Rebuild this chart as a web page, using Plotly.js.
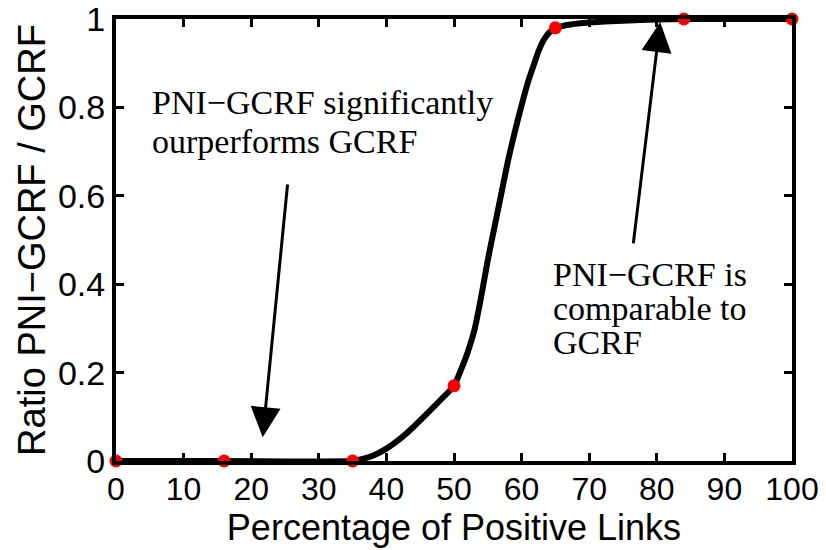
<!DOCTYPE html>
<html>
<head>
<meta charset="utf-8">
<script src="https://cdn.plot.ly/plotly-3.0.1.min.js"></script>
<style>html,body{margin:0;padding:0;background:#fff;}#chart{width:826px;height:550px;}</style>
</head>
<body>
<div id="chart"></div>
<script>
// Measured points (red markers)
const pointX = [0, 16, 35, 50, 65, 84, 100];
const pointY = [0, 0, 0, 0.17, 0.98, 1, 1];

// Smooth curve
const curveX = [0, 16, 35, 36, 38, 40, 42, 44, 46, 48, 50, 51, 52, 53, 54, 55, 56, 57, 58, 59, 60, 61, 62, 62.5, 63, 63.5, 64, 64.5, 65, 66, 67, 70, 75, 80, 84, 90, 100];
const curveY = [0, 0, 0, 0.003, 0.012, 0.028, 0.05, 0.077, 0.107, 0.138, 0.17, 0.205, 0.245, 0.295, 0.37, 0.455, 0.53, 0.605, 0.68, 0.745, 0.805, 0.86, 0.905, 0.927, 0.945, 0.958, 0.968, 0.975, 0.98, 0.984, 0.987, 0.992, 0.996, 0.999, 1, 1, 1];

const xTicks = [0, 10, 20, 30, 40, 50, 60, 70, 80, 90, 100];
const yTicks = [0, 0.2, 0.4, 0.6, 0.8, 1];
const yTickText = ['0', '0.2', '0.4', '0.6', '0.8', '1'];

const note1Lines = ['PNI\u2212GCRF significantly', 'ourperforms GCRF'];
const note2Lines = ['PNI\u2212GCRF is', 'comparable to', 'GCRF'];

const traces = [
  {x: curveX, y: curveY, mode: 'lines', type: 'scatter',
   line: {color: '#000', width: 6, shape: 'spline', smoothing: 0.6},
   hoverinfo: 'skip', cliponaxis: false},
  {x: pointX, y: pointY, mode: 'markers', type: 'scatter',
   marker: {color: '#ff0000', size: 13}, cliponaxis: false}
];

const xTickFont = {family: 'Liberation Sans, Arial, sans-serif', size: 32, color: '#000'};
const yTickFont = {family: 'Liberation Sans, Arial, sans-serif', size: 34, color: '#000'};
const xTitleFont = {family: 'Liberation Sans, Arial, sans-serif', size: 36, color: '#000'};
const yTitleFont = {family: 'Liberation Sans, Arial, sans-serif', size: 38, color: '#000'};
const noteFont = {family: 'Liberation Serif, Times New Roman, serif', size: 34, color: '#000'};

const plotH = 442;
function rowToY(px) { return (461 - px) / plotH; }

const annotations = [];
const note1Rows = [102, 141];
note1Lines.forEach((t, i) => annotations.push({
  x: 5.0, y: rowToY(note1Rows[i]), xref: 'x', yref: 'y', text: t, showarrow: false,
  xanchor: 'left', yanchor: 'middle', align: 'left', font: noteFont
}));
const note2Rows = [274, 308, 342];
note2Lines.forEach((t, i) => annotations.push({
  x: 64.3, y: rowToY(note2Rows[i]), xref: 'x', yref: 'y', text: t, showarrow: false,
  xanchor: 'left', yanchor: 'middle', align: 'left', font: noteFont
}));
annotations.push(
  {x: 21.7, y: 0.054, ax: 25.4, ay: 0.629, xref: 'x', yref: 'y', axref: 'x', ayref: 'y',
   text: '', showarrow: true, arrowhead: 2, arrowsize: 2, arrowwidth: 3, arrowcolor: '#000', standoff: 0},
  {x: 80.5, y: 0.993, ax: 76.5, ay: 0.489, xref: 'x', yref: 'y', axref: 'x', ayref: 'y',
   text: '', showarrow: true, arrowhead: 2, arrowsize: 2, arrowwidth: 3, arrowcolor: '#000', standoff: 0}
);

const layout = {
  width: 826, height: 550,
  margin: {l: 116, r: 34, t: 19, b: 89},
  paper_bgcolor: '#fff', plot_bgcolor: '#fff',
  showlegend: false,
  xaxis: {
    range: [0, 100], tickvals: xTicks, ticktext: xTicks.map(String),
    ticks: 'inside', ticklen: 8, tickwidth: 3, tickcolor: '#000',
    showline: true, linewidth: 4, linecolor: '#000', mirror: 'ticks',
    showgrid: false, zeroline: false, tickfont: xTickFont, ticklabeloverflow: 'allow',
    ticklabelstandoff: -3,
    title: {text: 'Percentage of Positive Links', font: xTitleFont, standoff: 4}
  },
  yaxis: {
    range: [0, 1], tickvals: yTicks, ticktext: yTickText,
    ticks: 'inside', ticklen: 8, tickwidth: 3, tickcolor: '#000',
    showline: true, linewidth: 4, linecolor: '#000', mirror: 'ticks',
    showgrid: false, zeroline: false, tickfont: yTickFont, ticklabeloverflow: 'allow',
    title: {text: 'Ratio PNI\u2212GCRF / GCRF', font: yTitleFont, standoff: 2}
  },
  annotations: annotations
};

Plotly.newPlot('chart', traces, layout, {displayModeBar: false, staticPlot: true});
</script>
</body>
</html>
